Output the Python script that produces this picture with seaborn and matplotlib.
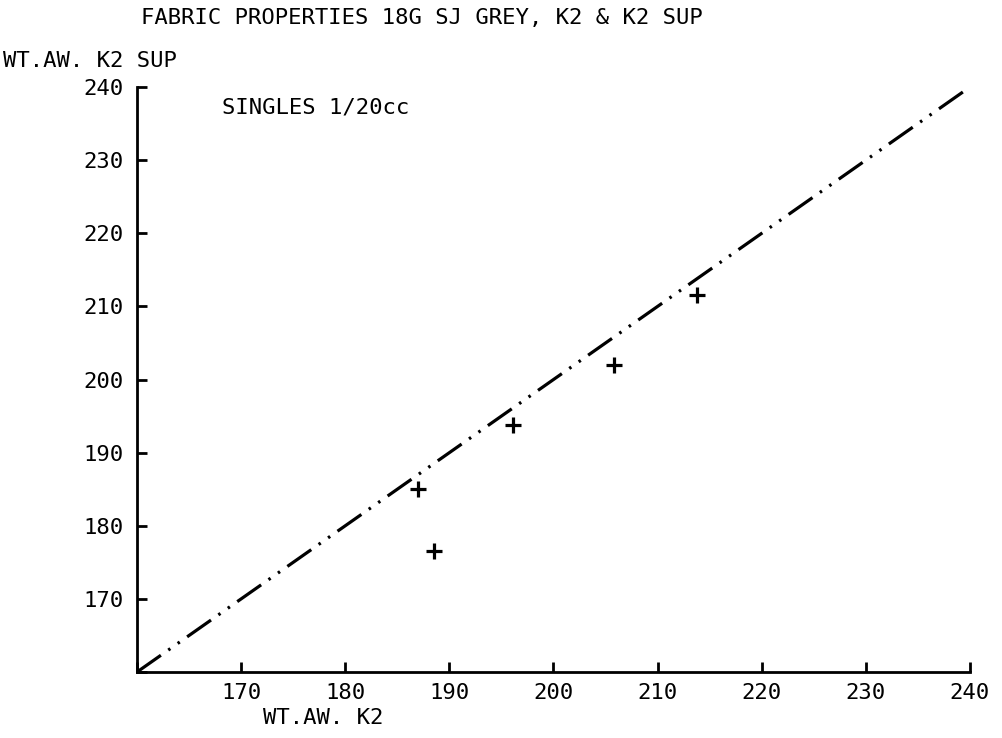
import matplotlib
matplotlib.use("Agg")
import matplotlib.pyplot as plt
import seaborn as sns
import pandas as pd

# Data
wt_aw_k2 = [187.0, 188.5, 196.1, 205.8, 213.8]
wt_aw_k2_sup = [185.0, 176.6, 193.8, 202.0, 211.6]
ref_line_x = [160, 240]
ref_line_y = [160, 240]
x_ticks = [160, 170, 180, 190, 200, 210, 220, 230, 240]
y_ticks = [160, 170, 180, 190, 200, 210, 220, 230, 240]
x_tick_labels = ["", "170", "180", "190", "200", "210", "220", "230", "240"]
y_tick_labels = ["", "170", "180", "190", "200", "210", "220", "230", "240"]

title = "FABRIC PROPERTIES 18G SJ GREY, K2 & K2 SUP"
x_label = "WT.AW. K2"
y_label = "WT.AW. K2 SUP"
note = "SINGLES 1/20cc"

sns.set_theme(style="ticks")
plt.rcParams["font.family"] = ["DejaVu Sans Mono"]
plt.rcParams["lines.scale_dashes"] = False
plt.rcParams["text.color"] = "black"

fig = plt.figure(figsize=(10.03, 7.38), dpi=100)
ax = fig.add_axes([0.1366, 0.0894, 0.967 - 0.1366, 0.882 - 0.0894])

pts = pd.DataFrame({"x": wt_aw_k2, "y": wt_aw_k2_sup})
line = pd.DataFrame({"x": ref_line_x, "y": ref_line_y})

sns.lineplot(data=line, x="x", y="y", ax=ax, color="black", lw=2.3)
ax.lines[0].set_dashes([21, 6.5, 1.8, 6.5, 1.8, 6.5])
sns.scatterplot(data=pts, x="x", y="y", ax=ax, marker="+", s=120,
                color="black", linewidth=2.3, zorder=5)

ax.set_xlim(160, 240)
ax.set_ylim(160, 240)
ax.set_xticks(x_ticks)
ax.set_xticklabels(x_tick_labels)
ax.set_yticks(y_ticks)
ax.set_yticklabels(y_tick_labels)
ax.tick_params(axis="both", direction="in", length=7, width=2, colors="black",
               labelsize=16)
ax.tick_params(axis="x", pad=8)
ax.tick_params(axis="y", pad=10)
for s in ["top", "right"]:
    ax.spines[s].set_visible(False)
for s in ["left", "bottom"]:
    ax.spines[s].set_linewidth(2)
    ax.spines[s].set_color("black")
ax.set_xlabel("")
ax.set_ylabel("")

tkw = dict(fontsize=16, color="black")
fig.text(0.421, 0.975, title, ha="center", va="center", **tkw)
fig.text(0.003, 0.918, y_label, ha="left", va="center", **tkw)
fig.text(0.322, 0.027, x_label, ha="center", va="center", **tkw)
ax.text(0.102, 0.965, note, transform=ax.transAxes, ha="left", va="center",
        **tkw)

fig.savefig("out.png", dpi=100)
